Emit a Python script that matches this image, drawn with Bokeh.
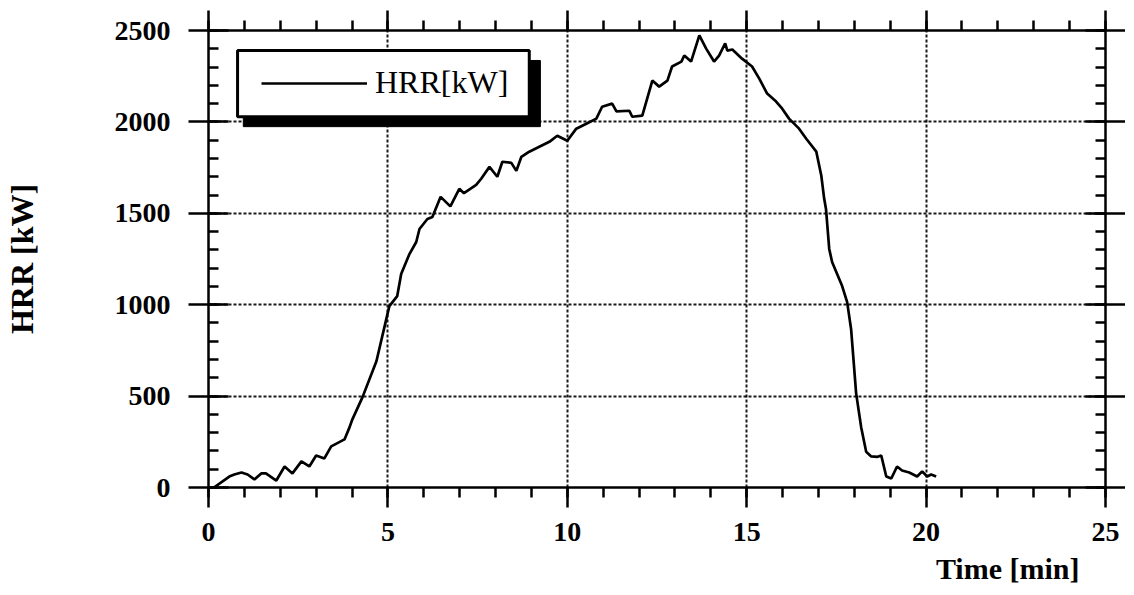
from bokeh.plotting import figure
from bokeh.models import (LinearAxis, SingleIntervalTicker, Range1d, Legend, LegendItem,
                          BoxAnnotation, Title, CustomJSTickFormatter)
from bokeh.embed import file_html
from bokeh.resources import INLINE

# ---- data ----
time_min = [0.15, 0.58, 0.72, 0.92, 1.09, 1.28, 1.47, 1.60, 1.89, 2.12, 2.34, 2.59, 2.81,
            3.00, 3.23, 3.42, 3.79, 3.93, 4.01, 4.29, 4.68, 5.04, 5.26, 5.37, 5.60, 5.79,
            5.88, 6.10, 6.24, 6.47, 6.74, 6.99, 7.12, 7.46, 7.60, 7.83, 8.05, 8.19, 8.44,
            8.58, 8.72, 8.94, 9.22, 9.50, 9.72, 10.00, 10.25, 10.53, 10.81, 10.97, 11.25,
            11.37, 11.73, 11.81, 12.09, 12.37, 12.56, 12.79, 12.92, 13.18, 13.26, 13.45,
            13.68, 13.87, 14.09, 14.23, 14.40, 14.46, 14.60, 14.87, 15.15, 15.35, 15.57,
            15.82, 15.99, 16.18, 16.46, 16.66, 16.94, 17.08, 17.16, 17.21, 17.30, 17.38,
            17.66, 17.80, 17.91, 18.05, 18.19, 18.33, 18.47, 18.65, 18.75, 18.89, 19.03,
            19.19, 19.33, 19.53, 19.75, 19.89, 20.03, 20.14, 20.28]
hrr_kw = [0, 60, 71, 82, 71, 44, 77, 77, 38, 115, 77, 143, 115,
          175, 159, 225, 263, 329, 373, 493, 691, 992, 1047, 1168, 1277, 1343,
          1414, 1469, 1480, 1590, 1538, 1634, 1610, 1655, 1689, 1754, 1700, 1782, 1776,
          1732, 1809, 1837, 1864, 1891, 1924, 1897, 1963, 1990, 2018, 2083, 2100,
          2058, 2061, 2028, 2034, 2226, 2193, 2226, 2303, 2330, 2363, 2330,
          2473, 2401, 2330, 2363, 2429, 2390, 2396, 2346, 2303, 2237, 2155,
          2111, 2072, 2018, 1963, 1908, 1837, 1705, 1579, 1524, 1305, 1234,
          1102, 1014, 866, 515, 330, 195, 170, 168, 175, 60, 49,
          115, 93, 82, 60, 88, 60, 71, 60]

x_major = 5
y_major = 500
x_range = (0, 25)
y_range = (0, 2500)
legend_label = "HRR[kW]"
x_title = "Time [min]"
y_title = "HRR [kW]"

FONT = "Liberation Serif"

p = figure(width=1125, height=586, output_backend="svg", toolbar_location=None,
           x_range=Range1d(*x_range), y_range=Range1d(*y_range),
           frame_width=897, frame_height=457,
           min_border_left=208, min_border_top=30, min_border_right=20, min_border_bottom=99)
p.outline_line_color = None
p.background_fill_color = "white"

xt = SingleIntervalTicker(interval=x_major, num_minor_ticks=5)
yt = SingleIntervalTicker(interval=y_major, num_minor_ticks=5)
blank = CustomJSTickFormatter(code="return ''")

def style_axis(ax, ticker, is_y, labels=True):
    ax.ticker = ticker
    ax.axis_line_width = 2.5
    ax.major_tick_line_width = 2.5
    ax.minor_tick_line_width = 2.5
    ax.major_tick_out = 20
    ax.major_tick_in = 20 if is_y else 0
    ax.minor_tick_out = 0 if is_y else 10
    ax.minor_tick_in = 10 if is_y else 0
    ax.axis_line_color = "black"
    ax.major_tick_line_color = "black"
    ax.minor_tick_line_color = "black"
    if labels:
        ax.major_label_text_font = FONT
        ax.major_label_text_font_style = "bold"
        ax.major_label_text_font_size = "28px"
        ax.major_label_text_color = "black"
        ax.major_label_standoff = 18 if is_y else 15
    else:
        ax.formatter = blank
        ax.major_label_standoff = 0

style_axis(p.xaxis[0], xt, False)
style_axis(p.yaxis[0], yt, True)
p.yaxis[0].axis_label = y_title
p.yaxis[0].axis_label_text_font = FONT
p.yaxis[0].axis_label_text_font_style = "bold"
p.yaxis[0].axis_label_text_font_size = "32px"
p.yaxis[0].axis_label_text_color = "black"
p.yaxis[0].axis_label_standoff = 72

top = LinearAxis()
style_axis(top, xt, False, labels=False)
p.add_layout(top, "above")
right = LinearAxis()
style_axis(right, yt, True, labels=False)
p.add_layout(right, "right")

for g, t in ((p.xgrid[0], xt), (p.ygrid[0], yt)):
    g.ticker = t
    g.grid_line_color = "black"
    g.grid_line_width = 2
    g.grid_line_dash = "3 2"
    g.grid_line_alpha = 0.9

curve = p.line(time_min, hrr_kw, line_color="black", line_width=2.7)

# legend frame with drop shadow
p.add_layout(BoxAnnotation(left=0.97, right=9.25, top=2336, bottom=1974,
                           fill_color="black", fill_alpha=1, line_color="black", line_alpha=1))
p.add_layout(BoxAnnotation(left=0.81, right=8.94, top=2390, bottom=2028,
                           fill_color="white", fill_alpha=1, line_color="black",
                           line_width=3, line_alpha=1))

leg = Legend(items=[LegendItem(label=legend_label, renderers=[curve])],
             location=(53, 386), glyph_width=106, glyph_height=30, label_standoff=8,
             padding=0, margin=0, spacing=0, border_line_alpha=0, background_fill_alpha=0,
             label_text_font=FONT, label_text_font_size="32px", label_text_color="black",
             label_height=30)
p.add_layout(leg)

p.add_layout(Title(text=x_title, align="right", offset=26, standoff=12,
                   text_font=FONT, text_font_style="bold", text_font_size="30px",
                   text_color="black"), "below")

open("out.html", "w").write(file_html(p, INLINE))
